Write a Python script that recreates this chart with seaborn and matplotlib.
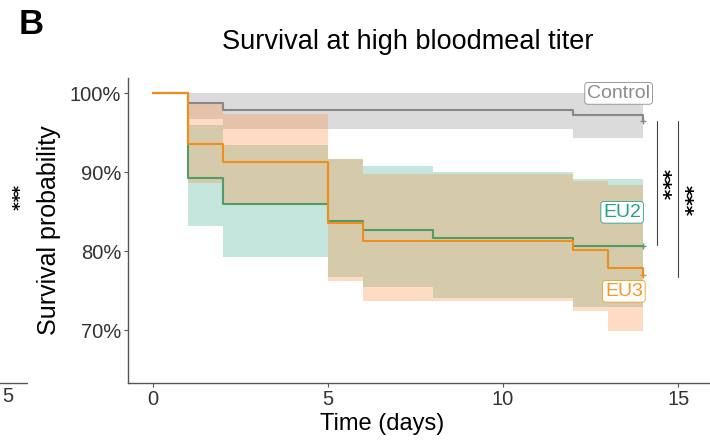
import matplotlib
matplotlib.use("Agg")
import matplotlib.pyplot as plt
import seaborn as sns
import pandas as pd
from matplotlib.lines import Line2D

# ---- data ----
control_t = [0, 1, 2, 12, 14]
control_s = [1.0, 0.987, 0.979, 0.972, 0.964]
control_hi = [1.0, 1.0, 1.0, 1.0, 1.0]
control_lo = [1.0, 0.967, 0.954, 0.943, 0.943]

eu2_t = [0, 1, 2, 5, 6, 8, 12, 14]
eu2_s = [1.0, 0.893, 0.860, 0.838, 0.827, 0.817, 0.806, 0.806]
eu2_hi = [1.0, 0.959, 0.934, 0.917, 0.908, 0.900, 0.891, 0.891]
eu2_lo = [1.0, 0.832, 0.793, 0.767, 0.754, 0.741, 0.729, 0.729]

eu3_t = [0, 1, 2, 5, 6, 12, 13, 14]
eu3_s = [1.0, 0.935, 0.913, 0.835, 0.813, 0.801, 0.779, 0.770]
eu3_hi = [1.0, 0.987, 0.973, 0.917, 0.898, 0.889, 0.884, 0.884]
eu3_lo = [1.0, 0.886, 0.858, 0.762, 0.737, 0.724, 0.699, 0.699]

groups = ["Control", "EU2", "EU3"]
y_ticks = [0.7, 0.8, 0.9, 1.0]
y_ticklabels = ["70%", "80%", "90%", "100%"]
x_ticks = [0, 5, 10, 15]

sns.set_theme(style="white")
plt.rcParams["font.family"] = ["Liberation Sans", "DejaVu Sans"]

line_colors = {"Control": "#888888", "EU2": "#559b68", "EU3": "#ef8e18"}
fill_colors = {"Control": "#c4c4c4", "EU2": "#1b9e77", "EU3": "#fd8d3c"}
fill_alpha = {"Control": 0.6, "EU2": 0.25, "EU3": 0.3}
text_colors = {"Control": "#8c8c8c", "EU2": "#26a285", "EU3": "#f39a2a"}

data = {
    "Control": (control_t, control_s, control_lo, control_hi),
    "EU2": (eu2_t, eu2_s, eu2_lo, eu2_hi),
    "EU3": (eu3_t, eu3_s, eu3_lo, eu3_hi),
}

fig = plt.figure(figsize=(7.1, 4.4), dpi=100)
ax = fig.add_axes([128 / 710, 1 - 383 / 440, 1 - 128 / 710, (383 - 78) / 440])

for g in groups:
    t, s, lo, hi = data[g]
    ax.fill_between(t, lo, hi, step="post", color=fill_colors[g],
                    alpha=fill_alpha[g], linewidth=0)

frames = []
for g in groups:
    t, s, lo, hi = data[g]
    frames.append(pd.DataFrame({"time": t, "surv": s, "group": g}))
df = pd.concat(frames, ignore_index=True)

sns.lineplot(data=df, x="time", y="surv", hue="group", palette=line_colors,
             drawstyle="steps-post", linewidth=1.5, legend=False, ax=ax,
             estimator=None, sort=False)

# censor marks
for g in groups:
    t, s, lo, hi = data[g]
    ax.plot([t[-1]], [s[-1]], marker="+", color=line_colors[g], ms=5, mew=1)

# group labels
label_pos = {"Control": (13.3, 0.9995), "EU2": (13.4, 0.849), "EU3": (13.45, 0.749)}
for g in groups:
    x, y = label_pos[g]
    ax.text(x, y, g, color=text_colors[g], fontsize=14, ha="center", va="center",
            bbox=dict(boxstyle="round,pad=0.12,rounding_size=0.15", fc="white",
                      ec=text_colors[g], lw=0.6),
            zorder=5)

# significance brackets
star_font = dict(family="DejaVu Sans", fontweight="bold", fontsize=14.5)
ax.plot([14.41, 14.41], [0.964, 0.808], color="#444444", lw=0.8)
ax.text(14.55, 0.8835, "***", rotation=270, ha="center", va="center",
        color="black", **star_font)
ax.plot([14.99, 14.99], [0.964, 0.767], color="#444444", lw=0.8)
ax.text(15.16, 0.8633, "***", rotation=270, ha="center", va="center",
        color="black", **star_font)

ax.set_xlim(-0.714, 15.91)
ax.set_ylim(1 - (383 - 93) / 790, 1 + (93 - 78) / 790)
ax.set_xticks(x_ticks)
ax.set_xticklabels([str(v) for v in x_ticks])
ax.set_yticks(y_ticks)
ax.set_yticklabels(y_ticklabels)
ax.tick_params(axis="both", labelsize=14.5, colors="#555555", labelcolor="#333333",
               length=3, width=0.8, direction="out", bottom=True, left=True, pad=2)
for sp in ["top", "right"]:
    ax.spines[sp].set_visible(False)
for sp in ["left", "bottom"]:
    ax.spines[sp].set_color("#555555")
    ax.spines[sp].set_linewidth(1.0)

ax.set_xlabel("Time (days)", fontsize=17, color="black")
ax.xaxis.label.set_va("center")
ax.xaxis.set_label_coords((382 - 128) / (710 - 128), -(424 - 383) / (383 - 78))
ax.set_ylabel("Survival probability", fontsize=18, color="black", labelpad=6)
fig.text(408 / 710, 1 - 42 / 440, "Survival at high bloodmeal titer", fontsize=19.5,
         ha="center", va="center", color="black")
fig.text(31 / 710, 1 - 24 / 440, "B", fontsize=25, fontweight="bold",
         ha="center", va="center", color="black")

# fragment of neighbouring panel at left edge
fig.text(11 / 710, 1 - 198 / 440, "***", rotation=270, ha="center", va="center",
         color="black", family="DejaVu Sans", fontweight="bold", fontsize=12)
fig.text(8 / 710, 1 - 396 / 440, "5", fontsize=14.5, ha="center", va="center",
         color="#333333")
fig.add_artist(Line2D([0, 27 / 710], [1 - 383 / 440, 1 - 383 / 440],
                      transform=fig.transFigure, color="#555555", lw=1.0))

fig.savefig("out.png", dpi=100)
